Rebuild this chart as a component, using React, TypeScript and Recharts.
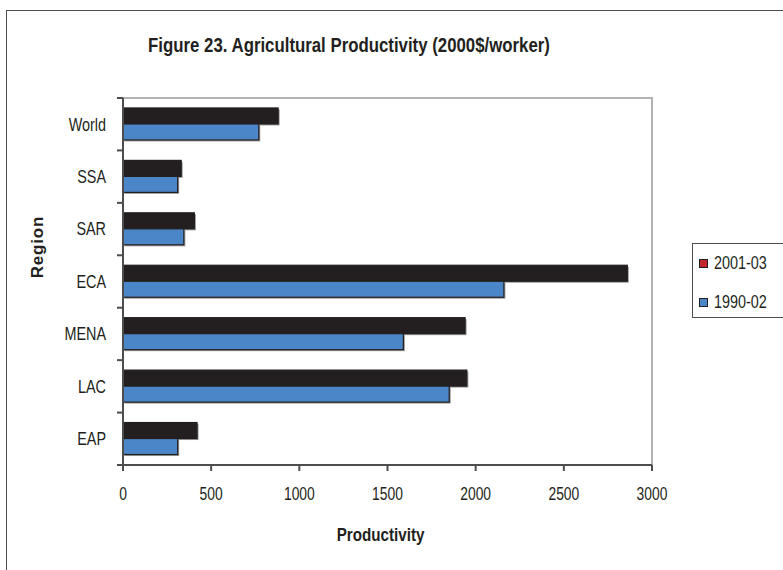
import { BarChart, Bar, XAxis, YAxis, ReferenceArea } from "recharts";

const regions = ["World", "SSA", "SAR", "ECA", "MENA", "LAC", "EAP"];
const prod2001 = [880, 330, 405, 2860, 1940, 1950, 420];
const prod1990 = [770, 310, 345, 2160, 1590, 1850, 310];
const xTicks = [0, 500, 1000, 1500, 2000, 2500, 3000];
const legendItems = [
  { label: "2001-03", color: "#c1272d" },
  { label: "1990-02", color: "#4a86c8" },
];

const data = regions.map((region, i) => ({
  region,
  p2001: prod2001[i],
  p1990: prod1990[i],
}));

const SANS = "'Liberation Sans', Arial, sans-serif";
const INK = "#231f20";
const AXIS = "#4d4d4d";
const NARROW = 0.8; // horizontal squeeze to mimic Arial Narrow
const TICK_SIZE = 6;
const TICK_MARGIN = 11;

// Bars with a dark outline and a soft grey drop shadow
function ShadowBar(props: any) {
  const { x, y, width, height, fill } = props;
  if (!width || width <= 0) return null;
  return (
    <g>
      <rect x={x + 1.5} y={y + 1.5} width={width} height={height} fill="#9a9a9a" />
      <rect x={x} y={y} width={width} height={height} fill={fill} stroke={INK} strokeWidth={1.2} />
    </g>
  );
}

// Category label at the band centre, tick marks at the band boundaries
function RegionTick(props: any) {
  const { x, y, payload, index, visibleTicksCount } = props;
  const ax = x + TICK_SIZE + TICK_MARGIN;
  const half = payload?.offset ?? 26;
  return (
    <g>
      <g transform={`translate(${x},${y})`}>
        <text transform={`scale(${NARROW},1)`} dy="0.35em" textAnchor="end" fontFamily={SANS} fontSize={18} fill={INK}>
          {payload.value}
        </text>
      </g>
      <line x1={ax - TICK_SIZE} x2={ax} y1={y - half} y2={y - half} stroke={AXIS} strokeWidth={2} />
      {index === visibleTicksCount - 1 && (
        <line x1={ax - TICK_SIZE} x2={ax} y1={y + half} y2={y + half} stroke={AXIS} strokeWidth={2} />
      )}
    </g>
  );
}

function ValueTick(props: any) {
  const { x, y, payload } = props;
  return (
    <g transform={`translate(${x},${y})`}>
      <text transform="scale(0.77,1)" dy="0.71em" textAnchor="middle" fontFamily={SANS} fontSize={18} fill={INK}>
        {payload.value}
      </text>
    </g>
  );
}

export default function App() {
  return (
    <div style={{ position: "relative", width: 783, height: 570, overflow: "hidden", background: "#fff" }}>
      <style>{"body{margin:0}"}</style>
      <div
        style={{
          position: "absolute",
          left: 6,
          top: 10,
          width: 900,
          height: 700,
          borderTop: `1.5px solid ${AXIS}`,
          borderLeft: `1.5px solid ${AXIS}`,
        }}
      />
      <div
        style={{
          position: "absolute",
          left: 0,
          width: 698,
          top: 34,
          textAlign: "center",
          fontFamily: SANS,
          fontWeight: "bold",
          fontSize: 20,
          color: INK,
          transform: "scaleX(0.84)",
          transformOrigin: "349px 0",
        }}
      >
        Figure 23. Agricultural Productivity (2000$/worker)
      </div>
      <div style={{ position: "absolute", left: 0, top: 0 }}>
        <BarChart
          width={783}
          height={570}
          data={data}
          layout="vertical"
          margin={{ top: 98, right: 131, bottom: 75, left: 63 }}
          barCategoryGap="19%"
          barGap={0}
        >
          <ReferenceArea x1={0} x2={3000} fill="none" stroke="#b3b3b3" strokeWidth={2} />
          <XAxis
            type="number"
            domain={[0, 3000]}
            ticks={xTicks}
            interval={0}
            height={30}
            tickSize={6}
            tickMargin={16}
            tick={<ValueTick />}
            axisLine={{ stroke: AXIS, strokeWidth: 2 }}
            tickLine={{ stroke: AXIS, strokeWidth: 2 }}
            label={{
              content: (p: any) => {
                const vb = p.viewBox;
                return (
                  <g transform={`translate(${vb.x + vb.width / 2 - 7},534)`}>
                    <text
                      transform={`scale(${NARROW},1)`}
                      dy="0.35em"
                      textAnchor="middle"
                      fontFamily={SANS}
                      fontWeight="bold"
                      fontSize={19}
                      fill={INK}
                    >
                      Productivity
                    </text>
                  </g>
                );
              },
            }}
          />
          <YAxis
            type="category"
            dataKey="region"
            width={60}
            tickSize={TICK_SIZE}
            tickMargin={TICK_MARGIN}
            tickLine={false}
            tick={<RegionTick />}
            axisLine={{ stroke: AXIS, strokeWidth: 2 }}
            label={{
              content: () => (
                <text
                  x={37}
                  y={247}
                  dy="0.35em"
                  textAnchor="middle"
                  transform="rotate(-90, 37, 247)"
                  fontFamily={SANS}
                  fontWeight="bold"
                  fontSize={17}
                  letterSpacing={0.8}
                  fill={INK}
                >
                  Region
                </text>
              ),
            }}
          />
          <Bar dataKey="p2001" name="2001-03" fill={INK} shape={<ShadowBar />} isAnimationActive={false} />
          <Bar dataKey="p1990" name="1990-02" fill="#4a86c8" shape={<ShadowBar />} isAnimationActive={false} />
        </BarChart>
      </div>
      <div
        style={{
          position: "absolute",
          left: 692,
          top: 243,
          width: 120,
          height: 73,
          border: `1.5px solid ${AXIS}`,
          background: "#fff",
          fontFamily: SANS,
          fontSize: 18,
          color: INK,
        }}
      >
        {legendItems.map((item, i) => (
          <div
            key={item.label}
            style={{ position: "absolute", left: 6, top: 9 + i * 39, height: 20, display: "flex", alignItems: "center" }}
          >
            <span
              style={{
                display: "inline-block",
                width: 7,
                height: 7,
                background: item.color,
                border: `1.5px solid ${INK}`,
                marginRight: 6,
              }}
            />
            <span style={{ lineHeight: "20px", display: "inline-block", transform: `scaleX(${NARROW})`, transformOrigin: "0 50%" }}>
              {item.label}
            </span>
          </div>
        ))}
      </div>
    </div>
  );
}
